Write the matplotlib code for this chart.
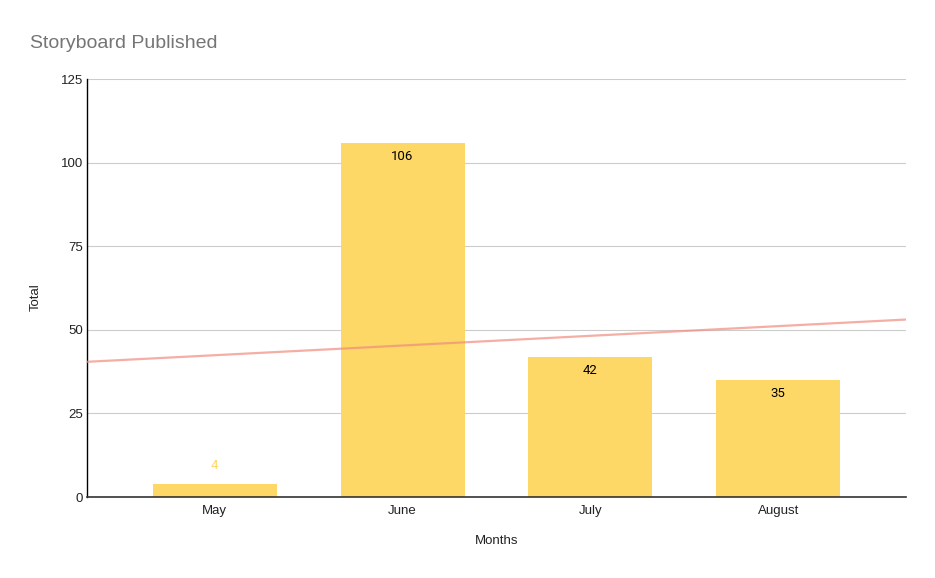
import matplotlib.pyplot as plt
import numpy as np

months = ["May", "June", "July", "August"]
totals = [4, 106, 42, 35]
y_ticks = [0, 25, 50, 75, 100, 125]

BAR_COLOR = "#FDD866"
TREND_COLOR = "#F08C7E"

plt.rcParams["font.family"] = ["Liberation Sans", "DejaVu Sans"]

fig = plt.figure(figsize=(9.35, 5.78), dpi=100)
ax = fig.add_axes([87 / 935, 81 / 578, 819 / 935, 418 / 578])

x = np.arange(len(months))
ax.bar(x, totals, width=0.66, color=BAR_COLOR, zorder=2)

# linear trendline across the full plot width
slope, intercept = np.polyfit(x, totals, 1)
xl = np.array([-0.68, 3.68])
ax.plot(xl, slope * xl + intercept, color=TREND_COLOR, alpha=0.7, linewidth=1.6, zorder=3)

for xi, val in zip(x, totals):
    if val > 10:
        ax.text(xi, val - 2.2, str(val), ha="center", va="top", fontsize=9.5,
                family=["Roboto", "DejaVu Sans"], color="black", zorder=4)
    else:
        ax.text(xi, val + 5.3, str(val), ha="center", va="center", fontsize=9.5,
                family=["Roboto", "DejaVu Sans"], color=BAR_COLOR, zorder=4)

ax.set_xlim(-0.68, 3.68)
ax.set_ylim(0, 125)
ax.set_yticks(y_ticks)
ax.set_xticks(x)
ax.set_xticklabels(months)
ax.tick_params(axis="both", length=0, labelsize=9.5, colors="#222222")
ax.tick_params(axis="x", pad=6)
ax.tick_params(axis="y", pad=3)
ax.grid(axis="y", color="#CCCCCC", linewidth=0.8, zorder=0)
ax.set_axisbelow(True)

for side in ["top", "right"]:
    ax.spines[side].set_visible(False)
ax.spines["left"].set_color("#000000")
ax.spines["left"].set_linewidth(1.0)
ax.spines["bottom"].set_color("#333333")
ax.spines["bottom"].set_linewidth(1.2)

fig.text(497 / 935, 1 - 541 / 578, "Months", ha="center", va="center", fontsize=9.5, color="#222222")
fig.text(36 / 935, 1 - 297 / 578, "Total", ha="center", va="center", rotation=90, fontsize=9.5, color="#222222")
fig.text(30 / 935, 1 - 43 / 578, "Storyboard Published", ha="left", va="center", fontsize=14, color="#757575")

fig.savefig("out.png", dpi=100)
